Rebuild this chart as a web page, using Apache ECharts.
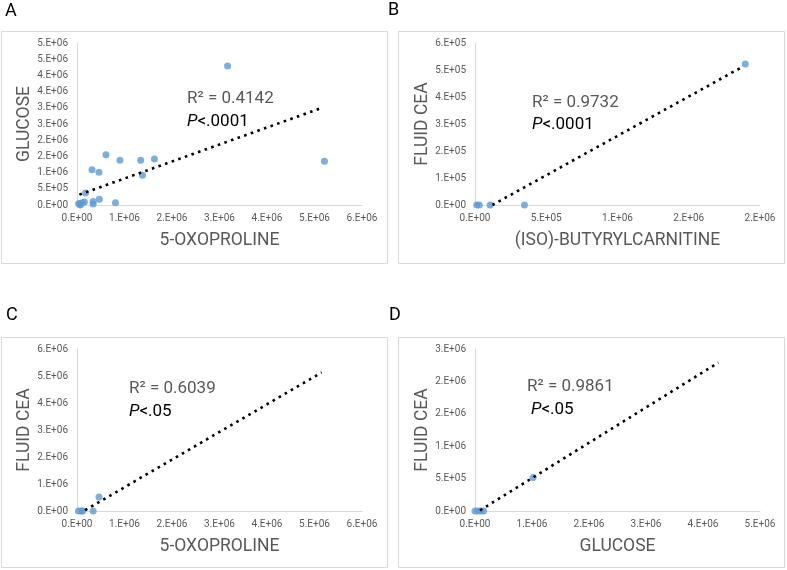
<!DOCTYPE html>
<html>
<head>
<meta charset="utf-8">
<script src="https://cdn.jsdelivr.net/npm/echarts@6/dist/echarts.min.js"></script>
<style>
html,body{margin:0;padding:0;background:#fff;}
#chart{width:787px;height:570px;}
</style>
</head>
<body>
<div id="chart"></div>
<script>
// ---- Panel A: 5-OXOPROLINE vs GLUCOSE ----
var xA = [3.17e6, 5.21e6, 0.61e6, 0.905e6, 1.34e6, 1.63e6, 0.316e6, 0.463e6, 1.38e6, 0.18e6, 0.47e6, 0.81e6, 0.34e6, 0.34e6, 0.155e6, 0.11e6, 0.06e6, 0.035e6, 0.07e6];
var yA = [4.29e6, 1.35e6, 1.55e6, 1.38e6, 1.38e6, 1.42e6, 1.09e6, 1.01e6, 0.92e6, 0.37e6, 0.175e6, 0.07e6, 0.11e6, 0.03e6, 0.09e6, 0.07e6, 0.02e6, 0.05e6, 0.0];
var trendAx = [0.05e6, 5.12e6];
var trendAy = [0.32e6, 2.98e6];
var xTicksA = ['0.E+00','1.E+06','2.E+06','3.E+06','4.E+06','5.E+06','6.E+06'];
var yTicksA = ['0.E+00','5.E+05','1.E+06','2.E+06','2.E+06','3.E+06','3.E+06','4.E+06','4.E+06','5.E+06','5.E+06'];

// ---- Panel B: (ISO)-BUTYRYLCARNITINE vs FLUID CEA ----
var xB = [1.897e6, 0.012e6, 0.03e6, 0.106e6, 0.347e6];
var yB = [5.22e5, 0, 0, 0, 0];
var trendBx = [0.122e6, 1.878e6];
var trendBy = [0, 5.12e5];
var xTicksB = ['0.E+00','5.E+05','1.E+06','2.E+06','2.E+06'];
var yTicksB = ['0.E+00','1.E+05','2.E+05','3.E+05','4.E+05','5.E+05','6.E+05'];

// ---- Panel C: 5-OXOPROLINE vs FLUID CEA ----
var xC = [0.463e6, 0.34e6, 0.03e6, 0.09e6, 0.12e6];
var yC = [0.52e6, 0, 0, 0, 0];
var trendCx = [0.17e6, 5.15e6];
var trendCy = [0.03e6, 5.13e6];
var xTicksC = ['0.E+00','1.E+06','2.E+06','3.E+06','4.E+06','5.E+06','6.E+06'];
var yTicksC = ['0.E+00','1.E+06','2.E+06','3.E+06','4.E+06','5.E+06','6.E+06'];

// ---- Panel D: GLUCOSE vs FLUID CEA ----
var xD = [1.02e6, 0.0, 0.05e6, 0.1e6, 0.15e6];
var yD = [5.17e5, 0, 0, 0, 0];
var trendDx = [0.088e6, 4.27e6];
var trendDy = [0.01e6, 2.29e6];
var xTicksD = ['0.E+00','1.E+06','2.E+06','3.E+06','4.E+06','5.E+06'];
var yTicksD = ['0.E+00','5.E+05','1.E+06','2.E+06','2.E+06','3.E+06'];

var panelLetters = ['A','B','C','D'];
var xNames = ['5-OXOPROLINE','(ISO)-BUTYRYLCARNITINE','5-OXOPROLINE','GLUCOSE'];
var yNames = ['GLUCOSE','FLUID CEA','FLUID CEA','FLUID CEA'];
var r2Texts = ['R\u00B2 = 0.4142','R\u00B2 = 0.9732','R\u00B2 = 0.6039','R\u00B2 = 0.9861'];
var pTexts = ['<.0001','<.0001','<.05','<.05'];

var FONT = 'Roboto';
var GREY = '#595959';
var AXIS = '#d9d9d9';
var BLUE = '#5b9bd5';

function zip(xs, ys){ return xs.map(function(x,i){ return [x, ys[i]]; }); }

var panels = [
  {x:xA,y:yA,tx:trendAx,ty:trendAy,xt:xTicksA,yt:yTicksA,xmax:6e6,xint:1e6,ymax:5e6,yint:5e5},
  {x:xB,y:yB,tx:trendBx,ty:trendBy,xt:xTicksB,yt:yTicksB,xmax:2e6,xint:5e5,ymax:6e5,yint:1e5},
  {x:xC,y:yC,tx:trendCx,ty:trendCy,xt:xTicksC,yt:yTicksC,xmax:6e6,xint:1e6,ymax:6e6,yint:1e6},
  {x:xD,y:yD,tx:trendDx,ty:trendDy,xt:xTicksD,yt:yTicksD,xmax:5e6,xint:1e6,ymax:2.5e6,yint:5e5}
];

var grids = [
  {left:77, top:43, width:285, height:162},
  {left:475, top:43, width:285, height:162},
  {left:77, top:349, width:285, height:162},
  {left:475, top:349, width:285, height:162}
];

var xAxes = [], yAxes = [], series = [];
panels.forEach(function(p, i){
  xAxes.push({
    type:'value', gridIndex:i, min:0, max:p.xmax, interval:p.xint,
    name:xNames[i], nameLocation:'middle', nameGap:27,
    nameTextStyle:{fontFamily:FONT, fontSize:17.5, color:GREY},
    axisLine:{show:true, lineStyle:{color:AXIS, width:1}},
    axisTick:{show:false}, splitLine:{show:false},
    axisLabel:{fontFamily:FONT, fontSize:10, color:GREY, margin:8,
      formatter:(function(t,iv){ return function(v){ return t[Math.round(v/iv)]; }; })(p.xt,p.xint)}
  });
  yAxes.push({
    type:'value', gridIndex:i, min:0, max:p.ymax, interval:p.yint,
    name:yNames[i], nameLocation:'middle', nameGap:36, nameRotate:90,
    nameTextStyle:{fontFamily:FONT, fontSize:17.5, color:GREY},
    axisLine:{show:true, lineStyle:{color:AXIS, width:1}},
    axisTick:{show:false}, splitLine:{show:false},
    axisLabel:{fontFamily:FONT, fontSize:10, color:GREY, margin:9,
      formatter:(function(t,iv){ return function(v){ return t[Math.round(v/iv)]; }; })(p.yt,p.yint)}
  });
  series.push({
    type:'scatter', xAxisIndex:i, yAxisIndex:i, data:zip(p.x,p.y),
    symbolSize:7, itemStyle:{color:BLUE}, z:2, silent:true
  });
  series.push({
    type:'line', xAxisIndex:i, yAxisIndex:i, data:zip(p.tx,p.ty),
    symbol:'none', lineStyle:{color:'#000', width:2.6, type:[2.6,4.4]}, z:3, silent:true
  });
});

var boxes = [
  {x:1.5, y:31.5, w:386, h:232},
  {x:398.5, y:31.5, w:386, h:232},
  {x:1.5, y:337.5, w:386, h:230},
  {x:398.5, y:337.5, w:386, h:230}
];
var letterPos = [[5,11],[388,10],[6,315],[389,315]];
var textPos = [[187,99,122],[532,103,125],[129,389,412],[527,387,410]];
var pOffset = [0,0,0,4];

var graphics = [];
boxes.forEach(function(b){
  graphics.push({type:'rect', shape:{x:b.x, y:b.y, width:b.w, height:b.h},
    style:{fill:null, stroke:AXIS, lineWidth:1}, silent:true, z:-1});
});
panelLetters.forEach(function(L,i){
  graphics.push({type:'text', x:letterPos[i][0], y:letterPos[i][1],
    style:{text:L, font:'18px '+FONT, fill:'#000', verticalAlign:'middle', align:'left'}});
});
r2Texts.forEach(function(t,i){
  graphics.push({type:'text', x:textPos[i][0], y:textPos[i][1],
    style:{text:t, font:'17px '+FONT, fill:GREY, verticalAlign:'middle', align:'left'}});
  graphics.push({type:'text', x:textPos[i][0]+pOffset[i], y:textPos[i][2],
    style:{text:'{i|P}{n|'+pTexts[i]+'}', verticalAlign:'middle', align:'left',
      rich:{i:{fontFamily:FONT, fontSize:17, fontStyle:'italic', fill:'#000', color:'#000'},
            n:{fontFamily:FONT, fontSize:17, fill:'#000', color:'#000'}}}});
});

var chart = echarts.init(document.getElementById('chart'), null, {renderer:'canvas'});
chart.setOption({
  animation:false,
  backgroundColor:'#fff',
  grid:grids,
  xAxis:xAxes,
  yAxis:yAxes,
  series:series,
  graphic:graphics
});
</script>
</body>
</html>
